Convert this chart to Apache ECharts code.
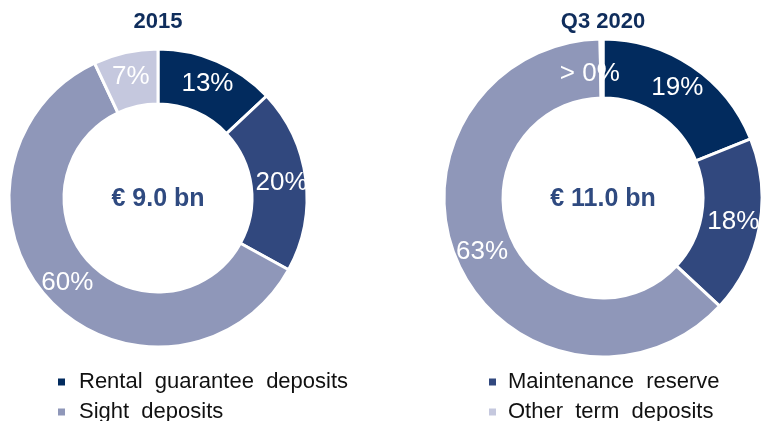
<!DOCTYPE html>
<html>
<head>
<meta charset="utf-8">
<script src="https://cdn.jsdelivr.net/npm/echarts@6/dist/echarts.min.js"></script>
<style>
  html, body { margin: 0; padding: 0; background: #fff; }
  #chart { width: 763px; height: 421px; }
</style>
</head>
<body>
<div id="chart"></div>
<script>
// data
const categories = ['Rental guarantee deposits', 'Maintenance reserve', 'Sight deposits', 'Other term deposits'];
const colors = ['#022b5e', '#31487e', '#8f97b9', '#c5c8de'];
const share2015 = [13, 20, 60, 7];
const labels2015 = ['13%', '20%', '60%', '7%'];
const share2020 = [19, 18, 63, 0.3];
const labels2020 = ['19%', '18%', '63%', '> 0%'];
const periods = ['2015', 'Q3 2020'];
const totals = ['€ 9.0 bn', '€ 11.0 bn'];

const font = 'Liberation Sans, Arial, sans-serif';

function pieData(values, labels) {
  return values.map((v, i) => {
    const label = { formatter: labels[i] };
    // the "> 0%" label sits a little left of and below the tiny slice
    if (v < 1) {
      label.formatter = '\n' + labels[i];
      label.lineHeight = 16;
      label.padding = [0, 24, 0, 0];
    }
    return { name: categories[i], value: v, label: label, itemStyle: { color: colors[i] } };
  });
}

function donut(center, radius, values, labels) {
  return {
    type: 'pie',
    center: center,
    radius: radius,
    startAngle: 90,
    clockwise: true,
    avoidLabelOverlap: false,
    silent: true,
    itemStyle: { borderColor: '#fff', borderWidth: 3 },
    label: { position: 'inside', color: '#fff', fontSize: 26, fontFamily: font },
    labelLine: { show: false },
    data: pieData(values, labels)
  };
}

function centerText(x, y, text, size, color) {
  return {
    type: 'text', x: x, y: y,
    style: {
      text: text, fill: color,
      font: 'bold ' + size + 'px ' + font,
      align: 'center', verticalAlign: 'middle',
      textAlign: 'center', textVerticalAlign: 'middle'
    }
  };
}

function legend(left, names, gap) {
  return {
    orient: 'vertical', left: left, top: 371, height: 60,
    padding: 0,
    icon: 'rect', itemWidth: 9, itemHeight: 9,
    itemGap: 8, itemTextGap: gap,
    selectedMode: false,
    formatter: name => name.split(' ').join('  '),
    textStyle: { fontSize: 22, lineHeight: 20, color: '#111', fontFamily: font, padding: [0, 0, 0, gap] },
    data: names
  };
}

const chart = echarts.init(document.getElementById('chart'));
chart.setOption({
  animation: false,
  graphic: [
    centerText(158, 22, periods[0], 22, '#0f2d5c'),
    centerText(603, 22, periods[1], 22, '#0f2d5c'),
    centerText(158, 199, totals[0], 25, '#2f4a80'),
    centerText(603, 199, totals[1], 25, '#2f4a80')
  ],
  legend: [
    legend(56, [categories[0], categories[2]], 8),
    legend(487, [categories[1], categories[3]], 6)
  ],
  series: [
    donut([158, 198], [94, 149], share2015, labels2015),
    donut([603, 198], [100, 159], share2020, labels2020)
  ]
});
</script>
</body>
</html>
